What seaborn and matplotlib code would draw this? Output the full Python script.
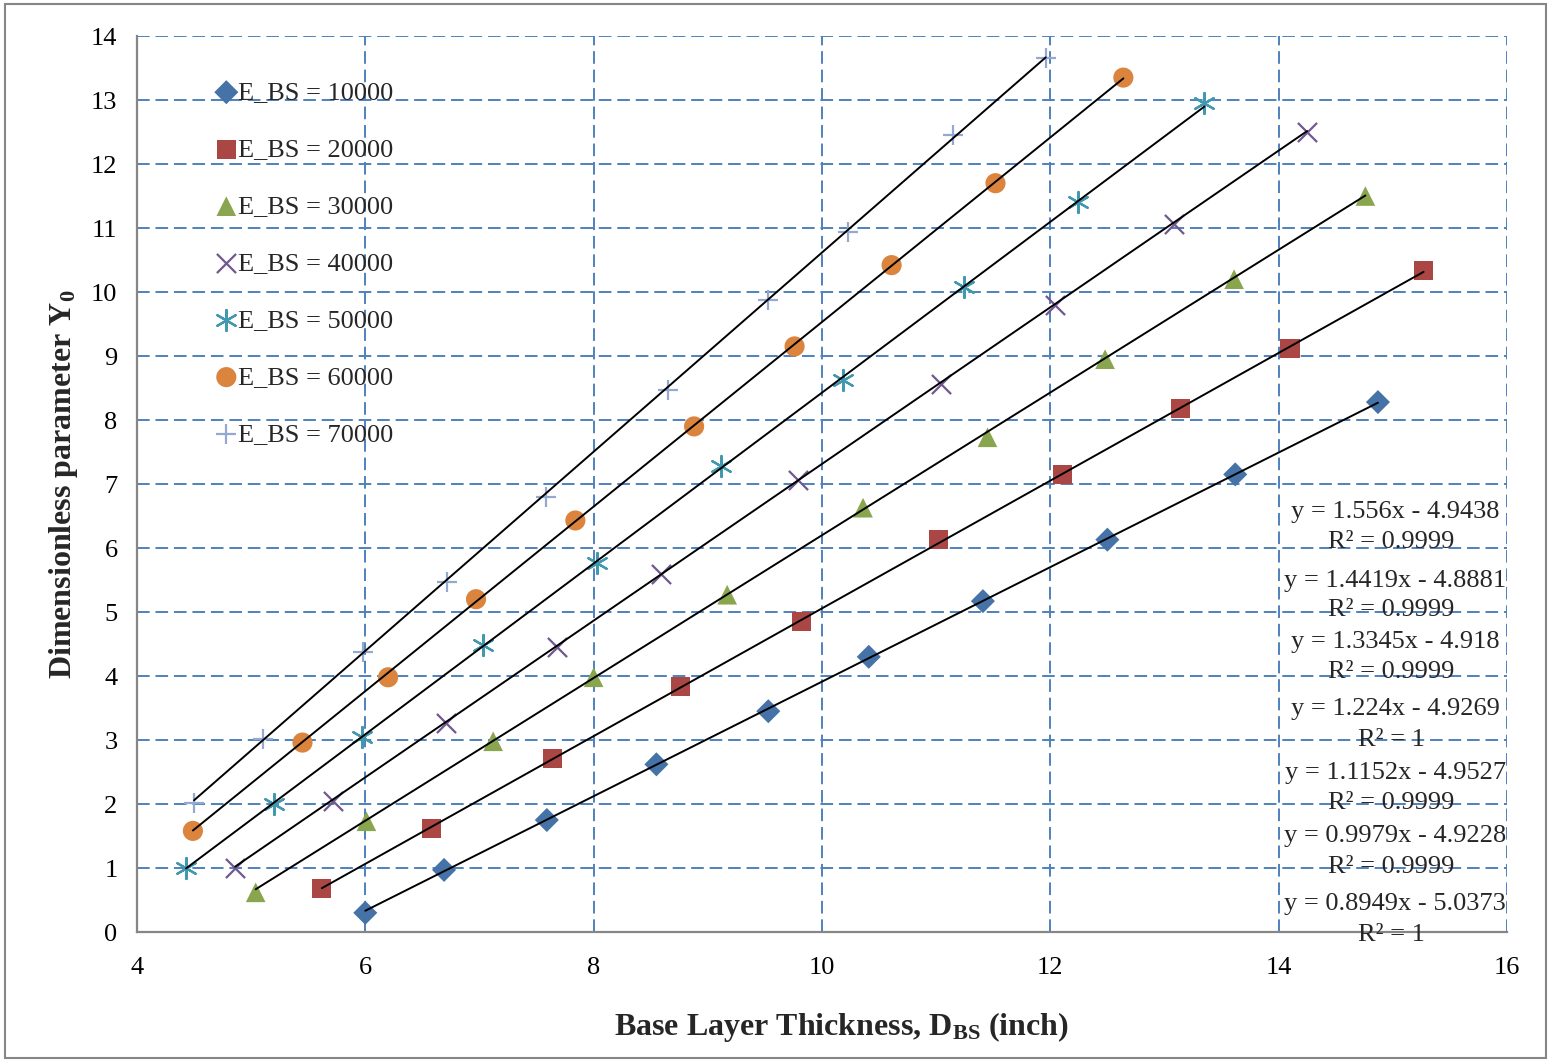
import numpy as np
import pandas as pd
import matplotlib
matplotlib.use("Agg")
import matplotlib.pyplot as plt
import seaborn as sns
from matplotlib.patches import Rectangle

# ---------------- data ----------------
series_labels = ["E_BS = 10000", "E_BS = 20000", "E_BS = 30000", "E_BS = 40000",
                 "E_BS = 50000", "E_BS = 60000", "E_BS = 70000"]

x_10000 = [6.00, 6.69, 7.59, 8.55, 9.53, 10.41, 11.41, 12.50, 13.62, 14.87]
y_10000 = [0.30, 0.97, 1.75, 2.62, 3.45, 4.30, 5.17, 6.13, 7.15, 8.28]

x_20000 = [5.62, 6.58, 7.64, 8.76, 9.82, 11.02, 12.11, 13.14, 14.10, 15.27]
y_20000 = [0.68, 1.62, 2.71, 3.83, 4.85, 6.13, 7.15, 8.18, 9.12, 10.33]

x_30000 = [5.04, 6.01, 7.12, 8.00, 9.17, 10.36, 11.45, 12.48, 13.61, 14.76]
y_30000 = [0.62, 1.73, 2.98, 3.98, 5.27, 6.63, 7.73, 8.95, 10.20, 11.50]

x_40000 = [4.86, 5.72, 6.71, 7.68, 8.59, 9.79, 11.04, 12.04, 13.08, 14.25]
y_40000 = [1.00, 2.05, 3.27, 4.45, 5.60, 7.07, 8.57, 9.80, 11.07, 12.50]

x_50000 = [4.43, 5.20, 5.97, 7.03, 8.03, 9.12, 10.18, 11.24, 12.24, 13.35]
y_50000 = [1.00, 2.00, 3.05, 4.48, 5.77, 7.28, 8.62, 10.08, 11.40, 12.95]

x_60000 = [4.49, 5.45, 6.20, 6.97, 7.84, 8.88, 9.76, 10.61, 11.52, 12.64]
y_60000 = [1.58, 2.96, 3.98, 5.20, 6.43, 7.90, 9.15, 10.42, 11.70, 13.35]

x_70000 = [4.50, 5.10, 5.98, 6.72, 7.58, 8.65, 9.53, 10.23, 11.15, 11.96]
y_70000 = [2.02, 3.02, 4.38, 5.47, 6.80, 8.47, 9.87, 10.93, 12.45, 13.65]

slopes = [0.8949, 0.9979, 1.1152, 1.224, 1.3345, 1.4419, 1.556]
intercepts = [-5.0373, -4.9228, -4.9527, -4.9269, -4.918, -4.8881, -4.9438]
r2_labels = ["1", "0.9999", "0.9999", "1", "0.9999", "0.9999", "0.9999"]

x_ticks = [4, 6, 8, 10, 12, 14, 16]
y_ticks = list(range(0, 15))

xs = [x_10000, x_20000, x_30000, x_40000, x_50000, x_60000, x_70000]
ys = [y_10000, y_20000, y_30000, y_40000, y_50000, y_60000, y_70000]

# ---------------- style ----------------
sns.set_theme(style="white")
plt.rcParams["font.family"] = ["Liberation Serif", "DejaVu Serif"]
plt.rcParams["mathtext.fontset"] = "custom"
plt.rcParams["mathtext.rm"] = "Liberation Serif"
plt.rcParams["mathtext.bf"] = "Liberation Serif:bold"
plt.rcParams["mathtext.it"] = "Liberation Serif:italic"

colors = ["#4572A7", "#AA4643", "#89A54E", "#71588F", "#4198AF", "#DB843D", "#93A9CF"]
markers = ["D", "s", "^", "x", (6, 2, 0), "o", "+"]
sizes = [150, 190, 200, 190, 230, 210, 190]

fig = plt.figure(figsize=(15.51, 10.62), dpi=100)
ax = fig.add_axes([0.0883, 0.1224, 0.8833, 0.8437])

for i in range(7):
    df = pd.DataFrame({"x": xs[i], "y": ys[i]})
    filled = markers[i] in ("D", "s", "^", "o")
    kw = dict(edgecolor="none") if filled else dict(linewidth=1.6)
    sns.scatterplot(data=df, x="x", y="y", marker=markers[i], color=colors[i],
                    s=sizes[i], label=series_labels[i], ax=ax, zorder=3, **kw)

for i in range(7):
    xl = np.array([min(xs[i]), max(xs[i])])
    yl = slopes[i] * xl + intercepts[i]
    sns.lineplot(x=xl, y=yl, color="black", linewidth=1.4, ax=ax, zorder=4,
                 legend=False, estimator=None, sort=False)

ax.set_xlim(4, 16)
ax.set_ylim(0, 14)
ax.set_xticks(x_ticks)
ax.set_yticks(y_ticks)
ax.tick_params(axis="both", labelsize=19, colors="#000000", length=6, width=1.3,
               direction="out", pad=8)
ax.tick_params(axis="both", color="#868686")
ax.tick_params(axis="x", pad=12)

ax.grid(True, color="#4F81BD", linestyle=(0, (6.5, 3)), linewidth=1.4)
ax.set_axisbelow(True)
for s in ["top", "right"]:
    ax.spines[s].set_visible(False)
for s in ["left", "bottom"]:
    ax.spines[s].set_color("#868686")
    ax.spines[s].set_linewidth(1.6)
    ax.spines[s].set_zorder(5)

ax.set_xlabel(r"Base Layer Thickness, D$_\mathbf{BS}$ (inch)", fontsize=23,
              fontweight="bold", labelpad=22)
ax.xaxis.label.set_x(0.514)
ax.set_ylabel(r"Dimensionless parameter Y$_\mathbf{0}$", fontsize=23,
              fontweight="bold", labelpad=8)

# equation labels
eq_y = [0.44, 1.50, 2.48, 3.48, 4.53, 5.48, 6.56]
r2_y = [-0.05, 1.02, 2.02, 3.00, 4.06, 5.03, 6.09]
for i in range(7):
    eq = f"y = {slopes[i]}x - {-intercepts[i]}"
    ax.text(15.02, eq_y[i], eq, fontsize=19, ha="center", va="center",
            clip_on=False, zorder=6)
    ax.text(14.99, r2_y[i], f"R² = {r2_labels[i]}", fontsize=19, ha="center",
            va="center", clip_on=False, zorder=6)

leg = ax.legend(loc="upper left", bbox_to_anchor=(0.134, 0.934),
                bbox_transform=fig.transFigure, frameon=False, fontsize=19,
                handlelength=0.6, handletextpad=0.15, labelspacing=1.27,
                borderaxespad=0, markerscale=1.0)

fig.patches.append(Rectangle((0.003, 0.004), 0.994, 0.992, transform=fig.transFigure,
                             fill=False, edgecolor="#868686", linewidth=1.5))

fig.savefig("out.png", dpi=100)
